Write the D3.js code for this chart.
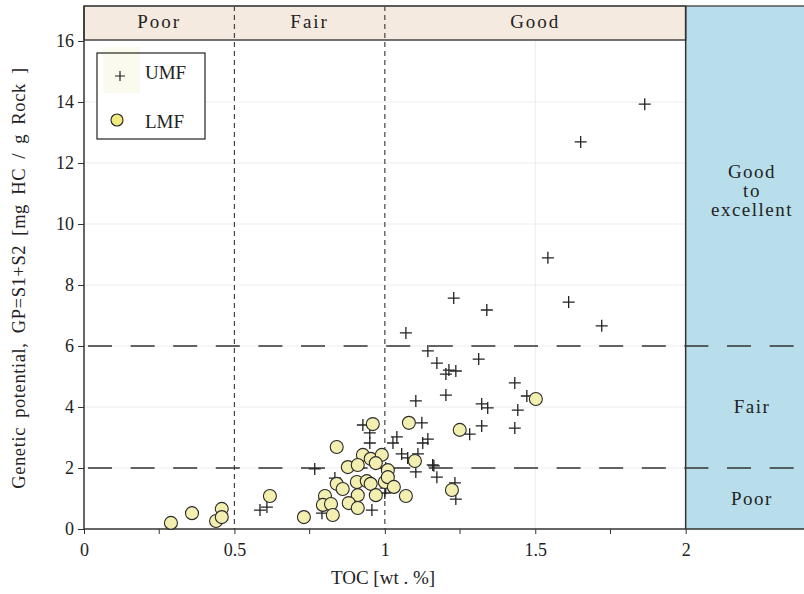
<!DOCTYPE html>
<html>
<head>
<meta charset="utf-8">
<script src="https://cdn.jsdelivr.net/npm/d3@7"></script>
<style>
  body { margin: 0; background: #fff; }
  svg text { font-family: "Liberation Serif", "DejaVu Serif", serif; fill: #222; }
</style>
</head>
<body>
<div id="chart"></div>
<script>
// UMF samples (crosses)
var umfToc = [1.864, 1.651, 1.542, 1.611, 1.721, 1.229, 1.339, 1.070, 1.143, 1.173, 1.213, 1.236, 1.203, 1.312,
  1.432, 1.472, 1.103, 1.203, 1.322, 1.342, 1.442, 1.322, 1.432, 1.282, 1.123, 1.143, 1.126, 1.040, 1.027,
  1.056, 1.076, 1.110, 1.159, 0.927, 0.950, 0.950, 0.767, 1.103, 1.163, 1.173, 1.233, 1.236, 0.957, 0.791,
  0.585, 0.608, 1.003, 1.000, 0.834, 1.003]
var umfGp = [13.93, 12.69, 8.89, 7.44, 6.66, 7.57, 7.18, 6.43, 5.84, 5.44, 5.21, 5.18, 5.08, 5.57,
  4.79, 4.36, 4.20, 4.39, 4.10, 3.97, 3.90, 3.38, 3.31, 3.11, 3.48, 2.95, 2.82, 3.02, 2.82,
  2.46, 2.33, 2.46, 2.10, 3.41, 3.15, 2.82, 1.97, 1.87, 2.07, 1.70, 1.51, 0.98, 0.62, 0.52,
  0.62, 0.72, 2.00, 1.18, 1.67, 1.34]

// LMF samples (circles)
var lmfToc = [0.289, 0.359, 0.439, 0.458, 0.458, 0.618, 0.731, 0.840, 0.960, 1.080, 1.249, 1.502, 1.100, 1.223,
  0.927, 0.953, 0.990, 0.877, 0.910, 0.970, 1.010, 0.840, 0.860, 0.907, 0.940, 0.953, 1.000, 1.010, 1.030,
  0.910, 0.970, 1.070, 0.801, 0.794, 0.821, 0.880, 0.910, 0.827]
var lmfGp = [0.20, 0.52, 0.26, 0.66, 0.39, 1.08, 0.39, 2.69, 3.44, 3.48, 3.25, 4.26, 2.23, 1.28,
  2.43, 2.30, 2.43, 2.03, 2.10, 2.16, 1.93, 1.48, 1.31, 1.54, 1.57, 1.48, 1.54, 1.70, 1.38,
  1.11, 1.11, 1.08, 1.08, 0.79, 0.82, 0.85, 0.69, 0.46]

var xTicks = [0, 0.5, 1, 1.5, 2]
var xMinorTicks = [0.25, 0.75, 1.25, 1.75]
var yTicks = [0, 2, 4, 6, 8, 10, 12, 14, 16]
var tocClasses = ["Poor", "Fair", "Good"]
var tocBounds = [0, 0.5, 1, 2]
var gpClasses = ["Poor", "Fair", "Good|to|excellent"]
var gpBounds = [0, 2, 6, 16]

var width = 804, height = 594
var x = d3.scaleLinear().domain([0, 2.4]).range([84, 806])
var y = d3.scaleLinear().domain([0, 16]).range([529, 41])
var plotTop = 6
var serif = '"Liberation Serif", "DejaVu Serif", serif'

var svg = d3.select("#chart").append("svg")
  .attr("width", width)
  .attr("height", height)

// right blue panel (GP classes)
svg.append("rect")
  .attr("x", x(2)).attr("y", plotTop)
  .attr("width", width - x(2)).attr("height", y(0) - plotTop)
  .attr("fill", "#b9deeb")

// grid lines
svg.selectAll(".hgrid").data(yTicks.slice(1, -1)).enter().append("line")
  .attr("x1", x(0)).attr("x2", x(2))
  .attr("y1", d => y(d)).attr("y2", d => y(d))
  .attr("stroke", "#ececec").attr("stroke-width", 1)
svg.append("line")
  .attr("x1", x(1.5)).attr("x2", x(1.5))
  .attr("y1", y(16)).attr("y2", y(0))
  .attr("stroke", "#ececec").attr("stroke-width", 1)

// top band (TOC classes)
svg.append("rect")
  .attr("x", x(0)).attr("y", plotTop)
  .attr("width", x(2) - x(0)).attr("height", y(16) - plotTop - 1)
  .attr("fill", "#f5eadf").attr("stroke", "#444").attr("stroke-width", 1.5)

svg.selectAll(".band").data(tocClasses).enter().append("text")
  .attr("x", (d, i) => (x(tocBounds[i]) + x(tocBounds[i + 1])) / 2)
  .attr("y", 28)
  .attr("text-anchor", "middle")
  .style("font-size", "19px")
  .style("letter-spacing", "2px")
  .text(d => d)

// class boundaries
svg.selectAll(".vdash").data(tocBounds.slice(1, 3)).enter().append("line")
  .attr("x1", d => x(d)).attr("x2", d => x(d))
  .attr("y1", plotTop).attr("y2", y(0))
  .attr("stroke", "#444").attr("stroke-width", 1.2)
  .attr("stroke-dasharray", "5,4")

svg.selectAll(".hdash").data(gpBounds.slice(1, 3)).enter().append("line")
  .attr("x1", x(0) + 4).attr("x2", width)
  .attr("y1", d => y(d)).attr("y2", d => y(d))
  .attr("stroke", "#333").attr("stroke-width", 1.3)
  .attr("stroke-dasharray", "24,18.6")

// GP class labels in the blue panel
gpClasses.forEach(function(c, i) {
  var lines = c.split("|")
  var cy = i < 2 ? (y(gpBounds[i]) + y(gpBounds[i + 1])) / 2 + 6 : 178
  lines.forEach(function(l, j) {
    svg.append("text")
      .attr("x", 752).attr("y", cy + j * 19)
      .attr("text-anchor", "middle")
      .style("font-size", "19px")
      .style("letter-spacing", "1.5px")
      .text(l)
  })
})

// frame lines
svg.append("line").attr("x1", x(0)).attr("x2", width).attr("y1", plotTop).attr("y2", plotTop)
  .attr("stroke", "#555").attr("stroke-width", 1.5)
svg.append("line").attr("x1", x(2)).attr("x2", x(2)).attr("y1", plotTop).attr("y2", y(0))
  .attr("stroke", "#333").attr("stroke-width", 1.5)

// axes
var xAxis = svg.append("g")
  .attr("transform", "translate(0," + y(0) + ")")
  .call(d3.axisBottom(x).tickValues(xTicks).tickSize(5).tickFormat(d3.format("")))
xAxis.append("g").selectAll("line").data(xMinorTicks).enter().append("line")
  .attr("x1", d => x(d)).attr("x2", d => x(d))
  .attr("y1", 0).attr("y2", 5).attr("stroke", "#333")
xAxis.select(".domain").attr("d", "M" + x(0) + ",0H" + width).attr("stroke", "#333").attr("stroke-width", 1.5)
xAxis.selectAll(".tick line").attr("stroke", "#333")
xAxis.attr("font-family", serif)
xAxis.selectAll("text").style("font-size", "18px").attr("dy", "1.05em").attr("fill", "#222")

var yAxis = svg.append("g")
  .attr("transform", "translate(" + x(0) + ",0)")
  .call(d3.axisLeft(y).tickValues(yTicks).tickSize(6))
yAxis.select(".domain").attr("d", "M0," + y(0) + "V" + plotTop).attr("stroke", "#333").attr("stroke-width", 1.5)
yAxis.selectAll(".tick line").attr("stroke", "#333")
yAxis.attr("font-family", serif)
yAxis.selectAll("text").style("font-size", "18px").attr("x", -10).attr("fill", "#222")

// axis titles
svg.append("text")
  .attr("x", 383).attr("y", 584)
  .attr("text-anchor", "middle")
  .style("font-size", "19px")
  .text("TOC [wt . %]")

svg.append("text")
  .attr("transform", "translate(25,278) rotate(-90)")
  .attr("text-anchor", "middle")
  .style("font-size", "18.5px")
  .style("letter-spacing", "0.6px")
  .style("word-spacing", "4px")
  .text("Genetic potential, GP=S1+S2  [mg HC / g Rock ]")

// data: crosses (UMF)
function plus(s) { return "M" + (-s) + ",0H" + s + "M0," + (-s) + "V" + s }

svg.selectAll(".umf").data(umfToc).enter().append("path")
  .attr("transform", (d, i) => "translate(" + x(d) + "," + y(umfGp[i]) + ")")
  .attr("d", plus(6))
  .attr("stroke", "#222").attr("stroke-width", 1.3).attr("fill", "none")

// data: circles (LMF)
svg.selectAll(".lmf").data(lmfToc).enter().append("circle")
  .attr("cx", d => x(d))
  .attr("cy", (d, i) => y(lmfGp[i]))
  .attr("r", 6.5)
  .attr("fill", "#f3efb0").attr("stroke", "#2a2a2a").attr("stroke-width", 1.1)

// legend
var lg = svg.append("g")
lg.append("rect").attr("x", 97).attr("y", 53).attr("width", 108).attr("height", 86).attr("fill", "#fff")
lg.append("rect").attr("x", 103).attr("y", 47).attr("width", 37).attr("height", 46).attr("fill", "#fbfaee")
lg.append("rect").attr("x", 97).attr("y", 53).attr("width", 108).attr("height", 86)
  .attr("fill", "none").attr("stroke", "#222").attr("stroke-width", 1.2)
lg.append("path").attr("transform", "translate(120,76)").attr("d", plus(5))
  .attr("stroke", "#222").attr("stroke-width", 1.2)
lg.append("text").attr("x", 145).attr("y", 79).style("font-size", "19px").text("UMF")
lg.append("circle").attr("cx", 117).attr("cy", 120).attr("r", 6)
  .attr("fill", "#efe97e").attr("stroke", "#222").attr("stroke-width", 1.1)
lg.append("text").attr("x", 145).attr("y", 128).style("font-size", "19px").text("LMF")
</script>
</body>
</html>
